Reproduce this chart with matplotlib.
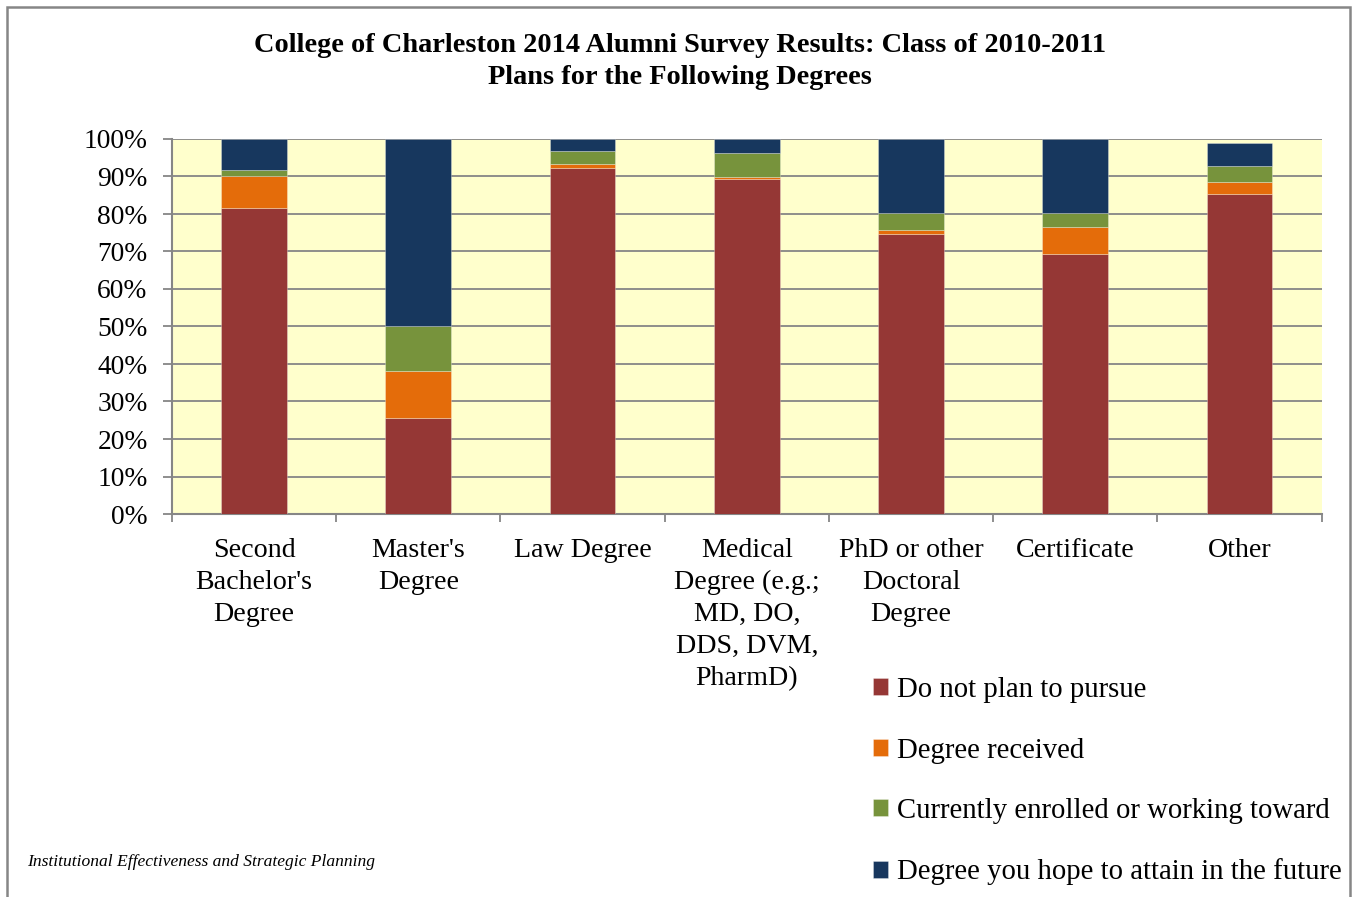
import matplotlib
matplotlib.use("Agg")
import matplotlib.pyplot as plt
from matplotlib.patches import Rectangle
from matplotlib.ticker import FixedLocator, PercentFormatter

categories = ["Second\nBachelor's\nDegree", "Master's\nDegree", "Law Degree",
              "Medical\nDegree (e.g.;\nMD, DO,\nDDS, DVM,\nPharmD)",
              "PhD or other\nDoctoral\nDegree", "Certificate", "Other"]
series_names = ["Do not plan to pursue", "Degree received",
                "Currently enrolled or working toward",
                "Degree you hope to attain in the future"]
do_not_plan = [81.6, 25.6, 92.2, 89.2, 74.7, 69.4, 85.4]
received = [8.5, 12.5, 1.1, 0.7, 1.0, 7.1, 3.1]
enrolled = [1.5, 12.0, 3.6, 6.4, 4.6, 3.8, 4.3]
hope = [8.4, 49.9, 3.1, 3.7, 19.7, 19.7, 6.2]
colors = ["#953735", "#E46C0A", "#77933C", "#17375E"]

plt.rcParams['font.family'] = ['Liberation Serif', 'DejaVu Serif']

W, H = 1353, 897
fig = plt.figure(figsize=(W / 100, H / 100), dpi=100)
ax = fig.add_axes([172 / W, 1 - 514 / H, (1321.5 - 172) / W, (514 - 139) / H])
ax.set_facecolor("#FFFFCC")

x = list(range(len(categories)))
bottom = [0.0] * len(categories)
handles = []
for vals, col, name in zip([do_not_plan, received, enrolled, hope], colors, series_names):
    b = ax.bar(x, vals, width=0.4, bottom=bottom, color=col, edgecolor=(1, 1, 1, 0.35),
               linewidth=0.6, label=name, zorder=3)
    handles.append(b)
    bottom = [bo + v for bo, v in zip(bottom, vals)]

ax.set_xlim(-0.5, len(categories) - 0.5)
ax.set_ylim(0, 100)
ax.yaxis.set_major_locator(FixedLocator(range(0, 101, 10)))
ax.yaxis.set_major_formatter(PercentFormatter(decimals=0))
ax.grid(axis='y', color='#868686', linewidth=1.3, zorder=1)
ax.set_axisbelow(True)

ax.set_xticks(x)
ax.set_xticklabels(categories, fontsize=20.2, linespacing=1.37)
ax.set_xticks([i - 0.5 for i in range(len(categories) + 1)], minor=True)
ax.tick_params(axis='x', which='major', length=0, pad=17)
ax.tick_params(axis='x', which='minor', length=6, width=1.3, color='#868686', direction='out')
ax.tick_params(axis='y', length=6.5, width=1.3, color='#868686', direction='out', pad=11,
               labelsize=19.8)
for t in ax.get_xticklabels():
    t.set_verticalalignment('top')

for s in ['top', 'right']:
    ax.spines[s].set_visible(False)
for s in ['left', 'bottom']:
    ax.spines[s].set_color('#868686')
    ax.spines[s].set_linewidth(1.5)

fig.text(0.5026, 1 - 45 / H, "College of Charleston 2014 Alumni Survey Results: Class of 2010-2011",
         ha='center', va='center', fontsize=20.4, fontweight='bold')
fig.text(0.5026, 1 - 78 / H, "Plans for the Following Degrees",
         ha='center', va='center', fontsize=20.4, fontweight='bold')

fig.legend(handles=handles, labels=series_names, loc='upper left',
           bbox_to_anchor=(873 / W, 1 - 677 / H), frameon=False, fontsize=20.7,
           handlelength=0.52, handleheight=0.52, handletextpad=0.3,
           labelspacing=1.2, borderpad=0, borderaxespad=0)

fig.text(27 / W, 1 - 862 / H, "Institutional Effectiveness and Strategic Planning",
         ha='left', va='center', fontsize=12.6, style='italic')

fig.patches.append(Rectangle((7 / W, -0.05), (1350 - 7) / W, 1.05 - 7 / H,
                             transform=fig.transFigure, fill=False,
                             edgecolor='#868686', linewidth=1.8))

fig.savefig("out.png", dpi=100)
